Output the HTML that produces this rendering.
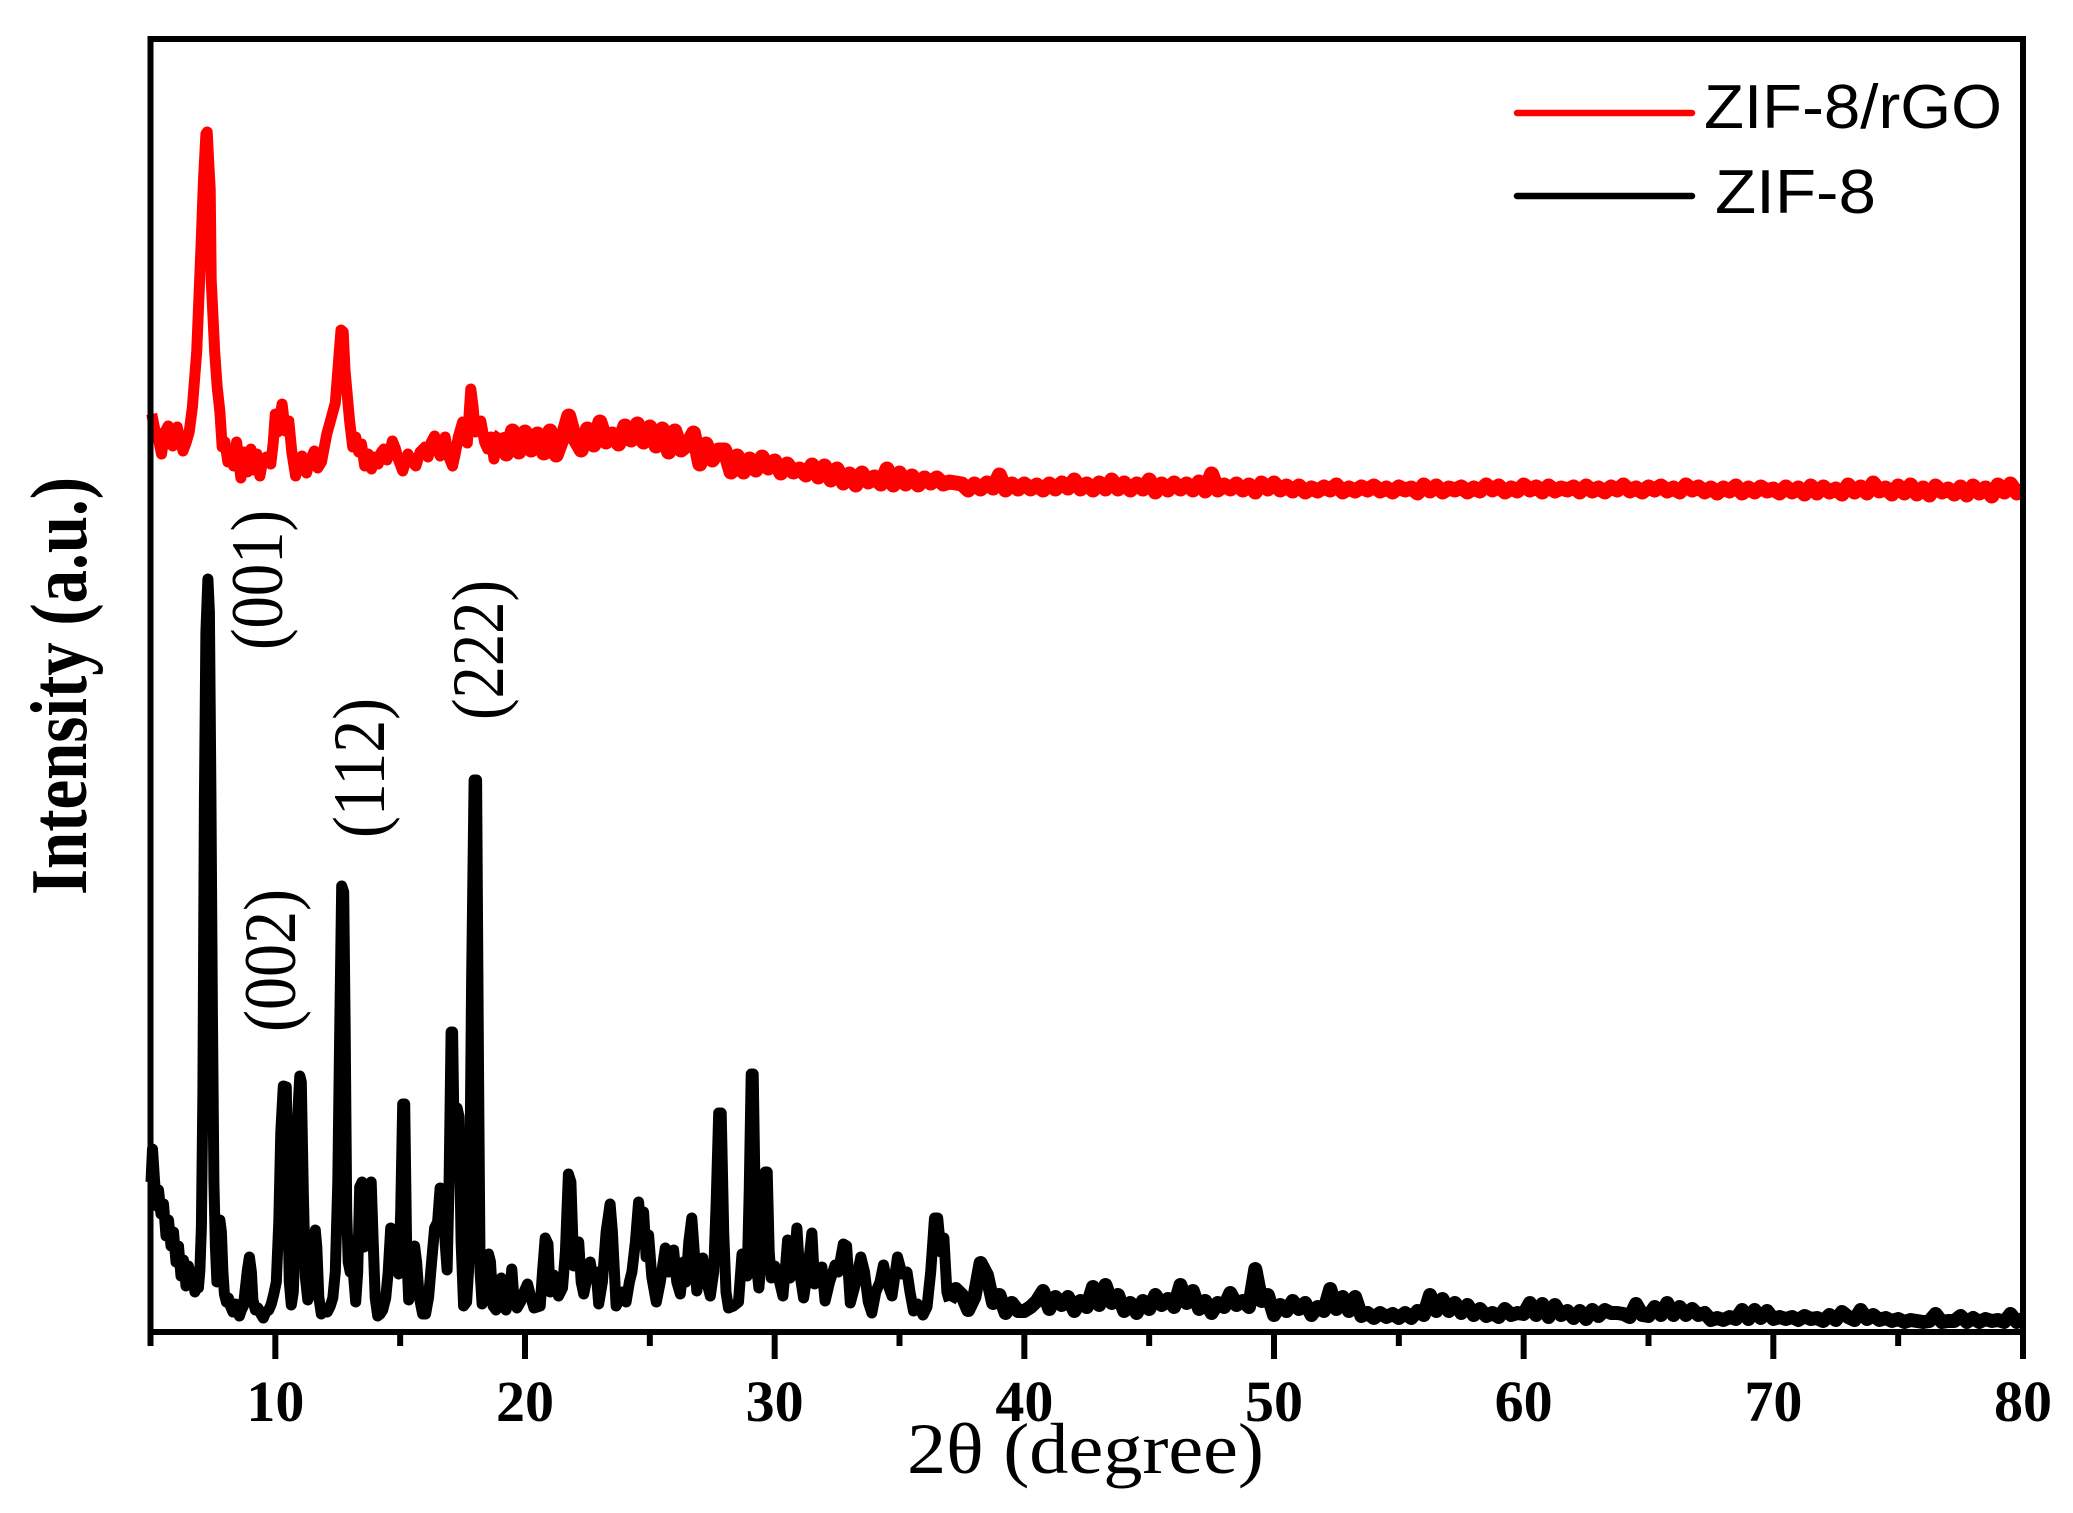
<!DOCTYPE html>
<html lang="en">
<head>
<meta charset="utf-8">
<title>XRD patterns of ZIF-8 and ZIF-8/rGO</title>
<style>
html,body{margin:0;padding:0;background:#fff;}
svg{display:block;}
text{fill:#000;}
</style>
</head>
<body>
<svg id="chart" xmlns="http://www.w3.org/2000/svg" width="2073" height="1513" viewBox="0 0 2073 1513">
  <rect x="0" y="0" width="2073" height="1513" fill="#fff"/>
  <g id="marks"></g>
  <rect x="150.5" y="39" width="1872.5" height="1293" fill="none" stroke="#000" stroke-width="6"/>
  <g id="ticks"></g>

  <text x="907" y="1473" font-family="'Liberation Serif',serif" font-size="72" textLength="357" lengthAdjust="spacingAndGlyphs">2θ (degree)</text>
  <text transform="translate(86,895) rotate(-90)" font-family="'Liberation Serif',serif" font-weight="bold" font-size="80" textLength="418" lengthAdjust="spacingAndGlyphs">Intensity (a.u.)</text>

  <text transform="translate(282,650) rotate(-90)" font-family="'Liberation Serif',serif" font-size="74" textLength="140" lengthAdjust="spacingAndGlyphs">(001)</text>
  <text transform="translate(295,1032) rotate(-90)" font-family="'Liberation Serif',serif" font-size="74" textLength="143" lengthAdjust="spacingAndGlyphs">(002)</text>
  <text transform="translate(384,838) rotate(-90)" font-family="'Liberation Serif',serif" font-size="74" textLength="140" lengthAdjust="spacingAndGlyphs">(112)</text>
  <text transform="translate(503,720) rotate(-90)" font-family="'Liberation Serif',serif" font-size="74" textLength="140" lengthAdjust="spacingAndGlyphs">(222)</text>

  <g>
    <line x1="1517" y1="113" x2="1692" y2="113" stroke="#f00" stroke-width="6.5" stroke-linecap="round"/>
    <text x="1704" y="128" font-family="'Liberation Sans',sans-serif" font-size="62" textLength="298" lengthAdjust="spacingAndGlyphs">ZIF-8/rGO</text>
    <line x1="1517" y1="196" x2="1692" y2="196" stroke="#000" stroke-width="6.5" stroke-linecap="round"/>
    <text x="1715" y="213" font-family="'Liberation Sans',sans-serif" font-size="62" textLength="161" lengthAdjust="spacingAndGlyphs">ZIF-8</text>
  </g>
</svg>
<script>
const majorTicks = [10,20,30,40,50,60,70,80];
const minorTicks = [5,15,25,35,45,55,65,75];

const blackPeakTheta = [
5.02,5.08,5.16,5.24,5.32,5.42,5.52,5.62,5.72,5.82,
5.92,6.02,6.12,6.22,6.32,6.42,6.52,6.6,6.7,6.78,
6.86,6.92,6.98,7.04,7.1,7.16,7.22,7.3,7.36,7.42,
7.48,7.54,7.6,7.66,7.72,7.78,7.84,7.9,7.96,8.04,
8.12,8.2,8.3,8.4,8.48,8.56,8.64,8.72,8.8,8.88,
8.96,9.04,9.1,9.2,9.3,9.42,9.52,9.62,9.74,9.84,
9.94,10.04,10.14,10.22,10.32,10.44,10.5,10.56,10.64,10.72,
10.8,10.88,10.98,11.04,11.12,11.2,11.3,11.42,11.52,11.6,
11.66,11.74,11.84,11.96,12.08,12.2,12.3,12.4,12.5,12.58,
12.66,12.74,12.8,12.86,12.92,13.0,13.07,13.14,13.22,13.3,
13.38,13.47,13.56,13.66,13.76,13.84,13.92,14.0,14.1,14.2,
14.3,14.42,14.52,14.62,14.72,14.84,14.94,15.02,15.1,15.18,
15.26,15.34,15.44,15.58,15.66,15.76,15.9,16.02,16.14,16.26,
16.38,16.5,16.6,16.72,16.8,16.88,16.96,17.04,17.1,17.18,
17.28,17.36,17.44,17.54,17.66,17.76,17.86,17.96,18.06,18.14,
18.2,18.28,18.4,18.54,18.62,18.72,18.84,18.94,19.05,19.14,
19.24,19.36,19.47,19.56,19.68,19.82,19.96,20.1,20.24,20.36,
20.61,20.7,20.81,20.92,21.0,21.14,21.26,21.34,21.5,21.62,
21.74,21.84,21.95,22.05,22.15,22.25,22.35,22.5,22.61,22.72,
22.85,22.95,23.1,23.25,23.41,23.5,23.65,23.78,23.9,24.05,
24.18,24.28,24.42,24.55,24.66,24.75,24.85,24.95,25.08,25.26,
25.42,25.62,25.75,25.95,26.08,26.22,26.35,26.45,26.56,26.68,
26.78,26.88,27.0,27.12,27.28,27.42,27.56,27.66,27.76,27.86,
27.96,28.05,28.15,28.35,28.55,28.69,28.8,28.9,28.98,29.06,
29.14,29.22,29.3,29.37,29.5,29.62,29.7,29.78,29.86,30.0,
30.15,30.33,30.45,30.52,30.62,30.78,30.89,31.0,31.16,31.32,
31.49,31.6,31.75,31.89,32.02,32.2,32.42,32.55,32.75,32.88,
33.03,33.2,33.45,33.6,33.75,33.89,34.05,34.22,34.36,34.5,
34.7,34.92,35.1,35.3,35.42,35.56,35.72,35.94,36.1,36.25,
36.4,36.53,36.66,36.78,36.9,37];
const blackPeakCounts = [
150,183,152,126,142,118,128,96,112,86,
100,70,86,56,72,46,66,50,60,40,
52,44,62,105,240,530,700,753,720,540,
320,150,85,50,90,112,100,60,38,30,
34,26,20,28,26,16,22,26,44,62,
75,60,32,22,24,18,14,20,22,28,
38,50,110,200,246,245,130,50,27,40,
100,210,256,250,140,55,32,40,90,102,
85,35,18,22,20,26,34,60,150,300,
446,440,300,120,70,60,92,55,30,60,
145,150,85,100,148,150,90,34,16,18,
22,34,60,104,100,70,58,120,228,228,
80,32,65,86,70,36,18,18,35,70,
104,110,144,143,90,62,150,300,300,160,
224,215,90,26,30,70,350,552,552,250,
60,28,40,78,70,26,22,34,54,30,
22,30,63,32,24,30,40,48,34,24,
26,60,94,88,40,57,42,36,44,80,
158,150,66,88,90,50,38,56,70,54,
60,28,50,100,128,100,26,32,40,30,
50,60,90,130,95,120,75,97,55,30,
50,84,60,82,50,38,70,50,90,114,
80,41,60,74,50,36,60,130,219,219,
100,40,24,26,30,78,78,56,140,258,
258,130,60,44,90,160,160,80,54,66,
55,36,70,92,54,70,104,60,34,60,
99,48,52,65,31,50,67,60,88,86,
29,45,75,60,30,19,40,50,67,50,
36,75,58,60,40,21,28,17,25,60,
114,114,80,94,40,31];
const blackTailStart = 37;
const blackTailStep = 0.25;
const blackTailCounts = [
31,43,37,22, 35,69,57,29, 37,19,29,21, 21,25,31,41,
23,35,27,35, 21,31,25,45, 27,47,29,37, 21,29,19,31,
23,37,27,33, 25,47,29,41, 23,31,19,29, 25,39,27,31,
25,63,31,37, 17,27,21,31, 23,29,17,25, 21,43,23,35,
21,35,16,19, 14,19,15,18, 14,19,14,21, 17,37,21,33,
21,29,19,27, 17,23,16,19, 15,23,17,19, 18,29,17,28,
15,27,17,21, 14,21,13,22, 16,22,19,19, 18,15,28,17,
16,25,17,29, 17,25,17,23, 17,19,12,14, 12,15,13,22,
13,22,14,21, 13,15,13,15, 12,16,13,14, 11,17,12,20,
15,12,22,13, 17,12,14,11, 13,10,12,11, 10,11,18,10,
11,11,16,10, 14,10,13,11, 12,10,18,10, 13];

const redPeakTheta = [
5.05,5.17,5.3,5.44,5.58,5.71,5.89,6.07,6.3,6.42,
6.55,6.68,6.85,7.03,7.12,7.22,7.27,7.33,7.39,7.43,
7.57,7.67,7.78,7.87,7.98,8.1,8.21,8.33,8.45,8.62,
8.74,8.88,9.02,9.14,9.26,9.38,9.5,9.64,9.82,9.92,
10.0,10.1,10.27,10.4,10.54,10.66,10.81,10.94,11.07,11.25,
11.4,11.56,11.7,11.85,12.06,12.25,12.4,12.56,12.63,12.72,
12.79,12.97,13.1,13.22,13.34,13.45,13.58,13.72,13.85,14.0,
14.12,14.25,14.35,14.47,14.58,14.69,14.8,14.92,15.1,15.31,
15.48,15.63,15.8,16.0,16.12,16.25,16.38,16.5,16.6,16.8,
16.95,17.1,17.22,17.33,17.5,17.69,17.78,17.83,17.92,18.0,
18.12,18.23,18.38,18.5,18.64,18.76,18.88,19];
const redPeakCounts = [
918,903,895,878,900,906,886,905,881,889,
900,925,980,1090,1150,1198,1200,1170,1143,1052,
980,945,920,885,890,870,880,866,890,854,
880,860,883,862,878,856,872,875,868,890,
918,900,928,901,911,880,856,870,876,859,
872,881,864,870,898,915,929,979,1002,1000,
962,912,885,895,880,888,866,878,863,875,
868,880,883,872,880,891,884,873,861,878,
870,866,880,885,875,890,896,882,876,895,
875,866,880,895,910,889,925,943,925,900,
905,911,890,883,895,873,895,899];
const redTailStart = 19;
const redTailStep = 0.25;
const redTailCounts = [
899,878,901,880, 900,882,898,879, 901,877,894,916, 893,882,903,887,
910,890,898,888, 906,892,908,890, 905,886,903,880, 901,882,887,899,
868,888,872,882, 882,860,876,860, 873,862,875,864, 871,859,868,860,
863,857,867,855, 866,852,863,849, 858,847,859,850, 855,848,863,847,
859,848,856,847, 854,849,854,848, 850,849,848,842, 848,843,849,844,
857,842,848,843, 848,843,847,842, 848,843,849,844, 852,843,848,842,
849,843,852,843, 849,842,848,843, 852,840,848,842, 849,843,848,842,
850,841,858,842, 847,843,848,842, 847,840,849,843, 849,842,846,841,
846,840,844,841, 845,842,847,840, 844,841,845,842, 846,841,844,840,
845,842,844,839, 847,841,846,840, 844,842,845,840, 844,841,847,842,
846,840,844,841, 847,842,845,840, 846,841,844,842, 845,840,846,841,
844,840,845,842, 847,841,844,840, 845,842,846,841, 844,840,847,842,
845,840,844,839, 844,841,846,839, 844,840,845,841, 843,839,845,840,
844,838,846,839, 845,840,843,838, 847,840,845,839, 849,841,844,838,
846,839,847,838, 844,837,846,840, 843,838,845,837, 846,839,844,836,
847,840,848,839, 841];

const NS = 'http://www.w3.org/2000/svg';
const xScale = function (theta) { return 150.5 + (theta - 5) / 75 * 1872.5; };
const yScale = function (counts) { return 1332 - counts; };

function peakPoints(thetas, counts) {
  const pts = [];
  for (let i = 0; i < thetas.length; i++) {
    pts.push(xScale(thetas[i]).toFixed(1) + ',' + yScale(counts[i]).toFixed(1));
  }
  return pts.join(' ');
}

function tailPoints(start, step, counts) {
  const pts = [];
  for (let i = 0; i < counts.length; i++) {
    pts.push(xScale(start + i * step).toFixed(1) + ',' + yScale(counts[i]).toFixed(1));
  }
  return pts.join(' ');
}

const marks = document.getElementById('marks');

const redPeaks = document.createElementNS(NS, 'polyline');


redPeaks.setAttribute('points', peakPoints(redPeakTheta, redPeakCounts));
redPeaks.setAttribute('fill', 'none');
redPeaks.setAttribute('stroke', '#ff0000');
redPeaks.setAttribute('stroke-width', '11');
redPeaks.setAttribute('stroke-linejoin', 'round');
marks.appendChild(redPeaks);

const redTail = document.createElementNS(NS, 'polyline');


redTail.setAttribute('points', tailPoints(redTailStart, redTailStep, redTailCounts));
redTail.setAttribute('fill', 'none');
redTail.setAttribute('stroke', '#ff0000');
redTail.setAttribute('stroke-width', '15');
redTail.setAttribute('stroke-linejoin', 'round');
marks.appendChild(redTail);

const blackPeaks = document.createElementNS(NS, 'polyline');


blackPeaks.setAttribute('points', peakPoints(blackPeakTheta, blackPeakCounts));
blackPeaks.setAttribute('fill', 'none');
blackPeaks.setAttribute('stroke', '#000000');
blackPeaks.setAttribute('stroke-width', '11');
blackPeaks.setAttribute('stroke-linejoin', 'round');
marks.appendChild(blackPeaks);

const blackTail = document.createElementNS(NS, 'polyline');


blackTail.setAttribute('points', tailPoints(blackTailStart, blackTailStep, blackTailCounts));
blackTail.setAttribute('fill', 'none');
blackTail.setAttribute('stroke', '#000000');
blackTail.setAttribute('stroke-width', '14');
blackTail.setAttribute('stroke-linejoin', 'round');
marks.appendChild(blackTail);

const tickLayer = document.getElementById('ticks');

majorTicks.forEach(function (value) {
  const tick = document.createElementNS(NS, 'line');
  
  
  tick.setAttribute('x1', xScale(value));
  tick.setAttribute('x2', xScale(value));
  tick.setAttribute('y1', 1332);
  tick.setAttribute('y2', 1359);
  tick.setAttribute('stroke', '#000');
  tick.setAttribute('stroke-width', '6');
  tickLayer.appendChild(tick);

  const label = document.createElementNS(NS, 'text');
  
  
  label.setAttribute('x', xScale(value));
  label.setAttribute('y', 1421);
  label.setAttribute('text-anchor', 'middle');
  label.setAttribute('font-family', "'Liberation Serif',serif");
  label.setAttribute('font-weight', 'bold');
  label.setAttribute('font-size', '58');
  label.textContent = String(value);
  tickLayer.appendChild(label);
});

minorTicks.forEach(function (value) {
  const tick = document.createElementNS(NS, 'line');
  
  
  tick.setAttribute('x1', xScale(value));
  tick.setAttribute('x2', xScale(value));
  tick.setAttribute('y1', 1332);
  tick.setAttribute('y2', 1346);
  tick.setAttribute('stroke', '#000');
  tick.setAttribute('stroke-width', '6');
  tickLayer.appendChild(tick);
});
</script>
</body>
</html>
